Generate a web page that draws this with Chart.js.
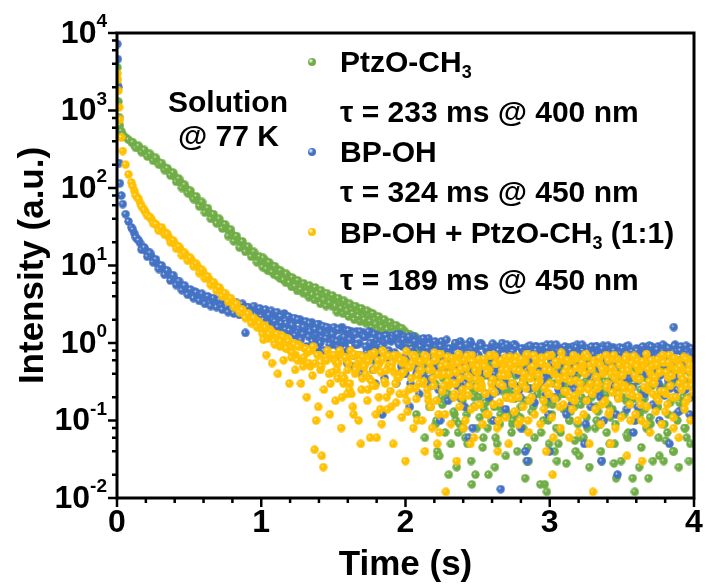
<!DOCTYPE html>
<html>
<head>
<meta charset="utf-8">
<script src="https://cdn.jsdelivr.net/npm/chart.js@4.4.1/dist/chart.umd.min.js"></script>
<style>
  html, body { margin: 0; padding: 0; background: #fff; }
  #wrap { position: relative; width: 706px; height: 586px; }
  .txt {
    position: absolute; white-space: nowrap; color: #000;
    font: bold 30px "Liberation Sans", Arial, sans-serif; line-height: 30px;
  }
  .txt sub { font-size: 0.6em; vertical-align: -0.35em; line-height: 0; }
  .dot { position: absolute; width: 8px; height: 8px; border-radius: 50%; }
</style>
</head>
<body>
<div id="wrap">
  <canvas id="chart" width="706" height="586"></canvas>
  <div class="txt" style="left:168px; top:87px;">Solution</div>
  <div class="txt" style="left:178px; top:121px;">@ 77 K</div>

  <span class="dot" id="dot0" style="left:308px; top:58px;"></span>
  <div class="txt" style="left:340px; top:47px;">PtzO-CH<sub>3</sub></div>
  <div class="txt" style="left:340px; top:97px;">τ = 233 ms @ 400 nm</div>
  <span class="dot" id="dot1" style="left:308px; top:148px;"></span>
  <div class="txt" style="left:340px; top:137px;">BP-OH</div>
  <div class="txt" style="left:340px; top:177px;">τ = 324 ms @ 450 nm</div>
  <span class="dot" id="dot2" style="left:308px; top:228px;"></span>
  <div class="txt" style="left:340px; top:218px;">BP-OH + PtzO-CH<sub>3</sub> (1:1)</div>
  <div class="txt" style="left:340px; top:265px;">τ = 189 ms @ 450 nm</div>
</div>
<script>
// --- sampling times (s) ---
const timeS = [
  0.003, 0.006, 0.01, 0.015, 0.02, 0.03, 0.04, 0.06, 0.08, 0.10,
  0.12, 0.14, 0.16, 0.18, 0.20, 0.22, 0.24, 0.26, 0.28, 0.30,
  0.32, 0.34, 0.36, 0.38, 0.40, 0.42, 0.44, 0.46, 0.48, 0.50,
  0.52, 0.54, 0.56, 0.58, 0.60, 0.62, 0.64, 0.66, 0.68, 0.70,
  0.72, 0.74, 0.76, 0.78, 0.80, 0.82, 0.84, 0.86, 0.88, 0.90,
  0.92, 0.94, 0.96, 0.98, 1.00, 1.02, 1.04, 1.06, 1.08, 1.10,
  1.12, 1.14, 1.16, 1.18, 1.20, 1.22, 1.24, 1.26, 1.28, 1.30,
  1.32, 1.34, 1.36, 1.38, 1.40, 1.42, 1.44, 1.46, 1.48, 1.50,
  1.52, 1.54, 1.56, 1.58, 1.60, 1.62, 1.64, 1.66, 1.68, 1.70,
  1.72, 1.74, 1.76, 1.78, 1.80, 1.82, 1.84, 1.86, 1.88, 1.90,
  1.92, 1.94, 1.96, 1.98, 2.00, 2.02, 2.04, 2.06, 2.08, 2.10,
  2.12, 2.14, 2.16, 2.18, 2.20, 2.22, 2.24, 2.26, 2.28, 2.30,
  2.32, 2.34, 2.36, 2.38, 2.40, 2.42, 2.44, 2.46, 2.48, 2.50,
  2.52, 2.54, 2.56, 2.58, 2.60, 2.62, 2.64, 2.66, 2.68, 2.70,
  2.72, 2.74, 2.76, 2.78, 2.80, 2.82, 2.84, 2.86, 2.88, 2.90,
  2.92, 2.94, 2.96, 2.98, 3.00, 3.02, 3.04, 3.06, 3.08, 3.10,
  3.12, 3.14, 3.16, 3.18, 3.20, 3.22, 3.24, 3.26, 3.28, 3.30,
  3.32, 3.34, 3.36, 3.38, 3.40, 3.42, 3.44, 3.46, 3.48, 3.50,
  3.52, 3.54, 3.56, 3.58, 3.60, 3.62, 3.64, 3.66, 3.68, 3.70,
  3.72, 3.74, 3.76, 3.78, 3.80, 3.82, 3.84, 3.86, 3.88, 3.90,
  3.92, 3.94, 3.96, 3.98, 4.00
];
const timeB = [
  0.11, 0.13, 0.15, 0.17, 0.19, 0.21, 0.23, 0.25, 0.27, 0.29,
  0.31, 0.33, 0.35, 0.37, 0.39, 0.41, 0.43, 0.45, 0.47, 0.49,
  0.51, 0.53, 0.55, 0.57, 0.59, 0.61, 0.63, 0.65, 0.67, 0.69,
  0.71, 0.73, 0.75, 0.77, 0.79, 0.81, 0.83, 0.85, 0.87, 0.89,
  0.91, 0.93, 0.95, 0.97, 0.99, 1.01, 1.03, 1.05, 1.07, 1.09,
  1.11, 1.13, 1.15, 1.17, 1.19, 1.21, 1.23, 1.25, 1.27, 1.29,
  1.31, 1.33, 1.35, 1.37, 1.39, 1.41, 1.43, 1.45, 1.47, 1.49,
  1.51, 1.53, 1.55, 1.57, 1.59, 1.61, 1.63, 1.65, 1.67, 1.69,
  1.71, 1.73, 1.75, 1.77, 1.79, 1.81, 1.83, 1.85, 1.87, 1.89,
  1.91, 1.93, 1.95, 1.97, 1.99, 2.01, 2.03, 2.05, 2.07, 2.09,
  2.11, 2.13, 2.15, 2.17, 2.19, 2.21, 2.23, 2.25, 2.27, 2.29,
  2.31, 2.33, 2.35, 2.37, 2.39, 2.41, 2.43, 2.45, 2.47, 2.49,
  2.51, 2.53, 2.55, 2.57, 2.59, 2.61, 2.63, 2.65, 2.67, 2.69,
  2.71, 2.73, 2.75, 2.77, 2.79, 2.81, 2.83, 2.85, 2.87, 2.89,
  2.91, 2.93, 2.95, 2.97, 2.99, 3.01, 3.03, 3.05, 3.07, 3.09,
  3.11, 3.13, 3.15, 3.17, 3.19, 3.21, 3.23, 3.25, 3.27, 3.29,
  3.31, 3.33, 3.35, 3.37, 3.39, 3.41, 3.43, 3.45, 3.47, 3.49,
  3.51, 3.53, 3.55, 3.57, 3.59, 3.61, 3.63, 3.65, 3.67, 3.69,
  3.71, 3.73, 3.75, 3.77, 3.79, 3.81, 3.83, 3.85, 3.87, 3.89,
  3.91, 3.93, 3.95, 3.97, 3.99
];
const timeC = [
  1.505, 1.525, 1.545, 1.565, 1.585, 1.605, 1.625, 1.645, 1.665, 1.685,
  1.705, 1.725, 1.745, 1.765, 1.785, 1.805, 1.825, 1.845, 1.865, 1.885,
  1.905, 1.925, 1.945, 1.965, 1.985, 2.005, 2.025, 2.045, 2.065, 2.085,
  2.105, 2.125, 2.145, 2.165, 2.185, 2.205, 2.225, 2.245, 2.265, 2.285,
  2.305, 2.325, 2.345, 2.365, 2.385, 2.405, 2.425, 2.445, 2.465, 2.485,
  2.505, 2.525, 2.545, 2.565, 2.585, 2.605, 2.625, 2.645, 2.665, 2.685,
  2.705, 2.725, 2.745, 2.765, 2.785, 2.805, 2.825, 2.845, 2.865, 2.885,
  2.905, 2.925, 2.945, 2.965, 2.985, 3.005, 3.025, 3.045, 3.065, 3.085,
  3.105, 3.125, 3.145, 3.165, 3.185, 3.205, 3.225, 3.245, 3.265, 3.285,
  3.305, 3.325, 3.345, 3.365, 3.385, 3.405, 3.425, 3.445, 3.465, 3.485,
  3.505, 3.525, 3.545, 3.565, 3.585, 3.605, 3.625, 3.645, 3.665, 3.685,
  3.705, 3.725, 3.745, 3.765, 3.785, 3.805, 3.825, 3.845, 3.865, 3.885,
  3.905, 3.925, 3.945, 3.965, 3.985
];
const timeD = [
  1.015, 1.035, 1.055, 1.075, 1.095, 1.115, 1.135, 1.155, 1.175, 1.195,
  1.215, 1.235, 1.255, 1.275, 1.295, 1.315, 1.335, 1.355, 1.375, 1.395,
  1.415, 1.435, 1.455, 1.475, 1.495, 1.515, 1.535, 1.555, 1.575, 1.595,
  1.615, 1.635, 1.655, 1.675, 1.695, 1.715, 1.735, 1.755, 1.775, 1.795,
  1.815, 1.835, 1.855, 1.875, 1.895, 1.915, 1.935, 1.955, 1.975, 1.995,
  2.015, 2.035, 2.055, 2.075, 2.095, 2.115, 2.135, 2.155, 2.175, 2.195,
  2.215, 2.235, 2.255, 2.275, 2.295, 2.315, 2.335, 2.355, 2.375, 2.395,
  2.415, 2.435, 2.455, 2.475, 2.495, 2.515, 2.535, 2.555, 2.575, 2.595,
  2.615, 2.635, 2.655, 2.675, 2.695, 2.715, 2.735, 2.755, 2.775, 2.795,
  2.815, 2.835, 2.855, 2.875, 2.895, 2.915, 2.935, 2.955, 2.975, 2.995,
  3.015, 3.035, 3.055, 3.075, 3.095, 3.115, 3.135, 3.155, 3.175, 3.195,
  3.215, 3.235, 3.255, 3.275, 3.295, 3.315, 3.335, 3.355, 3.375, 3.395,
  3.415, 3.435, 3.455, 3.475, 3.495, 3.515, 3.535, 3.555, 3.575, 3.595,
  3.615, 3.635, 3.655, 3.675, 3.695, 3.715, 3.735, 3.755, 3.775, 3.795,
  3.815, 3.835, 3.855, 3.875, 3.895, 3.915, 3.935, 3.955, 3.975, 3.995
];

// --- PtzO-CH3, tau = 233 ms @ 400 nm ---
const ptzY = [
  3600, 2100, 1300, 820, 640, 540, 490, 450, 420, 390,
  360, 345, 320, 300, 285, 270, 250, 238, 222, 205,
  192, 178, 165, 150, 140, 128, 118, 107, 98, 88,
  80, 74, 68, 63, 57, 53, 48, 44, 41, 38,
  35, 32, 30, 27, 25, 23.5, 21, 19.5, 18, 16.5,
  15.5, 14.5, 13, 12.5, 11.2, 10.8, 10, 9.6, 8.8, 8.5,
  8.0, 7.6, 7.0, 6.8, 6.2, 6.0, 5.6, 5.5, 5.0, 4.8,
  4.7, 4.3, 4.5, 3.9, 4.1, 3.7, 3.5, 3.8, 3.2, 3.4,
  3.1, 3.4, 2.8, 3.0, 2.6, 2.9, 2.4, 2.7, 2.2, 2.5,
  2.3, 2.0, 2.4, 1.8, 2.1, 1.6, 1.9, 1.5, 1.7, 1.35,
  1.5, 1.3, 1.45, 1.2, 1.35, 1.1, 1.25, 1.0, 1.15, 0.95,
  1.05, 0.8, 0.95, 0.6, 0.85, 0.04, 0.7, 0.35, 0.75, 0.02,
  0.5, 0.12, 0.35, 0.7, 0.08, 0.3, 0.45, 0.015, 0.22, 0.55,
  0.3, 0.06, 0.42, 0.18, 0.65, 0.025, 0.35, 0.12, 0.5, 0.2,
  0.4, 0.09, 0.28, 0.55, 0.15, 0.33, 0.03, 0.46, 0.2, 0.6,
  0.25, 0.07, 0.5, 0.012, 0.38, 0.16, 0.45, 0.05, 0.3, 0.22,
  0.55, 0.1, 0.35, 0.04, 0.42, 0.2, 0.6, 0.08, 0.28, 0.48,
  0.15, 0.4, 0.03, 0.32, 0.52, 0.11, 0.36, 0.018, 0.25, 0.45,
  0.3, 0.06, 0.48, 0.19, 0.38, 0.025, 0.55, 0.14, 0.34, 0.09,
  0.42, 0.2, 0.035, 0.5, 0.27, 0.12, 0.6, 0.04, 0.33, 0.17,
  0.45, 0.08, 0.3, 0.55, 0.22
];
const ptzB = [
  390, 330, 350, 290, 310, 255, 275, 225, 245, 200,
  210, 170, 180, 145, 158, 120, 132, 100, 110, 86,
  92, 72, 78, 58, 66, 48, 55, 40, 46, 35,
  40, 30, 34, 24, 29, 20.5, 24, 17, 20.5, 15,
  17.5, 13, 15, 11, 13, 9.5, 11.5, 8.5, 10, 7.6,
  9.0, 6.8, 8.0, 6.0, 7.2, 5.3, 6.5, 4.7, 5.6, 4.4,
  5.3, 3.9, 4.9, 3.6, 4.4, 3.2, 4.2, 3.0, 3.8, 3.0,
  3.7, 2.8, 3.5, 2.5, 3.2, 2.3, 3.0, 2.1, 2.8, 2.0,
  2.6, 1.9, 2.5, 1.7, 2.2, 1.55, 2.0, 1.45, 1.85, 1.3,
  1.7, 1.15, 1.6, 1.05, 1.45, 0.9, 1.3, 0.8, 1.2, 0.7,
  0.9, 0.5, 1.0, 0.3, 0.65, 0.09, 0.55, 0.2, 0.8, 0.45,
  0.35, 0.6, 0.1, 0.45, 0.25, 0.7, 0.05, 0.4, 0.3, 0.6,
  0.2, 0.5, 0.38, 0.08, 0.55, 0.28, 0.45, 0.15, 0.62, 0.32,
  0.5, 0.22, 0.6, 0.12, 0.42, 0.3, 0.018, 0.5, 0.26, 0.4,
  0.35, 0.55, 0.2, 0.45, 0.1, 0.6, 0.3, 0.03, 0.48, 0.25,
  0.4, 0.28, 0.52, 0.15, 0.38, 0.06, 0.45, 0.32, 0.58, 0.2,
  0.3, 0.48, 0.09, 0.42, 0.22, 0.6, 0.35, 0.05, 0.4, 0.27,
  0.45, 0.18, 0.58, 0.3, 0.012, 0.42, 0.25, 0.5, 0.08, 0.36,
  0.28, 0.52, 0.15, 0.4, 0.03, 0.46, 0.33, 0.6, 0.2, 0.38,
  0.5, 0.25, 0.06, 0.42, 0.3
];
const ptzC = [
  3.0, 2.5, 3.3, 2.4, 2.9, 2.2, 2.7, 2.0, 2.5, 1.9,
  2.2, 1.8, 2.3, 1.6, 2.0, 1.5, 1.9, 1.4, 1.75, 1.3,
  1.55, 1.25, 1.4, 1.1, 1.3, 0.95, 1.2, 0.85, 1.1, 0.75,
  0.7, 0.38, 0.6, 0.15, 0.5, 0.3, 0.035, 0.42, 0.25, 0.55,
  0.4, 0.2, 0.5, 0.07, 0.33, 0.58, 0.12, 0.45, 0.26, 0.02,
  0.35, 0.5, 0.14, 0.4, 0.62, 0.22, 0.06, 0.48, 0.3, 0.4,
  0.25, 0.55, 0.1, 0.38, 0.2, 0.5, 0.3, 0.045, 0.44, 0.15,
  0.5, 0.28, 0.4, 0.015, 0.34, 0.18, 0.56, 0.08, 0.42, 0.3,
  0.22, 0.46, 0.13, 0.38, 0.55, 0.035, 0.3, 0.48, 0.18, 0.4,
  0.52, 0.1, 0.36, 0.25, 0.6, 0.16, 0.44, 0.028, 0.32, 0.5,
  0.2, 0.4, 0.07, 0.52, 0.3, 0.45, 0.12, 0.36, 0.58, 0.018,
  0.34, 0.48, 0.15, 0.4, 0.26, 0.055, 0.5, 0.3, 0.44, 0.1,
  0.38, 0.2, 0.5, 0.03, 0.32
];
const ptzD = [
  12.5, 9.0, 11, 8.2, 9.8, 7.2, 8.6, 6.5, 7.8, 6.0,
  7.0, 5.4, 6.4, 4.9, 5.9, 4.5, 5.5, 4.2, 5.2, 3.9,
  4.8, 3.6, 4.4, 3.3, 4.1, 3.0, 3.8, 2.8, 3.5, 2.6,
  3.2, 2.4, 3.0, 2.2, 2.8, 2.0, 2.6, 1.9, 2.4, 1.75,
  2.2, 1.6, 2.0, 1.5, 1.85, 1.35, 1.7, 1.25, 1.55, 1.15,
  1.3, 0.95, 1.2, 0.12, 1.05, 0.7, 0.06, 0.85, 0.15, 0.6,
  0.1, 0.035, 0.16, 0.07, 0.22, 0.05, 0.13, 0.025, 0.09, 0.18,
  0.06, 0.14, 0.03, 0.2, 0.08, 0.11, 0.045, 0.17, 0.02, 0.1,
  0.15, 0.05, 0.09, 0.24, 0.035, 0.12, 0.07, 0.19, 0.04, 0.11,
  0.08, 0.18, 0.03, 0.13, 0.06, 0.22, 0.015, 0.1, 0.16, 0.05,
  0.12, 0.04, 0.2, 0.07, 0.14, 0.028, 0.1, 0.17, 0.055, 0.09,
  0.16, 0.06, 0.11, 0.025, 0.21, 0.08, 0.13, 0.04, 0.18, 0.07,
  0.05, 0.14, 0.09, 0.2, 0.03, 0.12, 0.065, 0.16, 0.018, 0.1,
  0.13, 0.045, 0.19, 0.08, 0.11, 0.03, 0.15, 0.06, 0.22, 0.09,
  0.07, 0.17, 0.04, 0.12, 0.025, 0.14, 0.08, 0.19, 0.05, 0.11
];

// --- BP-OH, tau = 324 ms @ 450 nm ---
const bpY = [
  7200, 4600, 2000, 210, 115, 80, 62, 46, 37, 31,
  26, 22, 19.5, 17, 15.5, 14.5, 13, 11.5, 10.5, 9.5,
  9.0, 8.3, 7.8, 7.0, 6.6, 6.2, 5.6, 5.3, 4.9, 4.6,
  4.4, 4.6, 3.9, 4.2, 3.6, 3.9, 3.3, 3.7, 3.2, 3.4,
  3.1, 3.5, 2.9, 3.3, 2.7, 3.2, 2.6, 3.0, 2.5, 2.9,
  2.4, 2.8, 2.3, 2.7, 2.2, 2.6, 2.1, 2.5, 2.0, 2.4,
  2.2, 1.8, 2.4, 1.7, 2.1, 1.6, 2.0, 1.5, 1.9, 1.45,
  1.8, 1.4, 1.7, 1.3, 1.75, 1.2, 1.6, 1.25, 1.5, 1.1,
  1.45, 1.1, 1.6, 0.95, 1.35, 1.15, 0.7, 1.4, 1.0, 1.3,
  1.2, 0.85, 1.35, 0.6, 1.1, 0.95, 0.12, 1.25, 0.75, 1.05,
  1.15, 0.65, 1.3, 0.9, 0.4, 1.1, 0.8, 1.2, 0.55, 1.0,
  0.95, 0.6, 1.15, 0.35, 0.85, 0.7, 0.1, 1.0, 0.5, 0.8,
  0.65, 0.9, 0.28, 1.05, 0.55, 0.75, 0.06, 0.95, 0.45, 0.7,
  1.0, 0.5, 0.8, 0.2, 0.9, 0.4, 0.65, 0.013, 0.85, 0.55,
  0.75, 0.3, 0.95, 0.6, 0.08, 0.85, 0.45, 0.7, 0.2, 0.9,
  0.5, 0.8, 0.35, 0.95, 0.04, 0.65, 0.75, 0.25, 0.85, 0.55,
  0.7, 0.15, 0.9, 0.45, 0.8, 0.6, 0.05, 0.85, 0.38, 0.72,
  0.9, 0.5, 0.03, 0.78, 0.62, 0.3, 0.88, 0.12, 0.7, 0.55,
  0.8, 0.4, 0.68, 0.07, 0.85, 0.52, 0.75, 0.22, 0.9, 0.6,
  0.45, 0.82, 0.1, 0.7, 0.9, 0.33, 0.62, 1.6, 0.8, 0.5,
  0.75, 0.25, 0.88, 0.55, 0.7
];
const bpB = [
  29, 23, 21, 16, 17, 13, 14.5, 11, 12, 9,
  10, 7.6, 8.6, 6.4, 7.5, 5.6, 6.3, 4.8, 5.5, 4.2,
  4.9, 3.8, 4.5, 3.5, 4.3, 3.2, 4.0, 3.0, 3.8, 2.9,
  3.6, 2.7, 3.6, 2.5, 3.4, 2.4, 3.3, 2.3, 3.2, 1.35,
  2.9, 2.1, 3.0, 2.0, 2.8, 1.9, 2.7, 1.8, 2.6, 1.75,
  2.5, 1.6, 2.3, 1.5, 2.2, 1.4, 2.1, 1.35, 2.0, 1.3,
  1.9, 1.2, 1.85, 1.1, 1.75, 1.0, 1.65, 1.15, 1.55, 0.95,
  1.5, 0.9, 1.55, 1.05, 1.45, 0.8, 1.4, 0.95, 0.5, 1.3,
  1.35, 0.75, 1.3, 0.9, 0.3, 1.25, 0.85, 1.2, 0.65, 1.1,
  1.25, 0.7, 1.0, 0.5, 1.2, 0.85, 0.15, 1.1, 0.6, 0.95,
  1.1, 0.75, 0.45, 1.0, 0.65, 0.9, 0.25, 1.05, 0.7, 0.85,
  0.8, 0.35, 1.0, 0.6, 0.9, 0.15, 0.75, 1.05, 0.5, 0.85,
  0.6, 0.95, 0.4, 0.8, 0.7, 0.1, 0.9, 0.55, 1.0, 0.3,
  0.85, 0.5, 0.95, 0.65, 0.25, 0.8, 0.04, 0.9, 0.6, 0.75,
  0.9, 0.45, 0.7, 0.85, 0.12, 0.95, 0.6, 0.8, 0.35, 0.75,
  0.55, 0.88, 0.3, 0.7, 0.95, 0.5, 0.8, 0.09, 0.65, 0.9,
  0.6, 0.8, 0.2, 0.92, 0.45, 0.7, 0.85, 0.55, 0.02, 0.75,
  0.65, 0.9, 0.35, 0.78, 0.55, 0.15, 0.85, 0.7, 0.4, 0.92,
  0.8, 0.55, 0.9, 0.25, 0.72, 0.85, 0.05, 0.65, 0.95, 0.6,
  0.9, 0.45, 0.8, 0.12, 0.65
];
const bpC = [
  1.6, 1.05, 1.5, 1.2, 0.85, 1.45, 1.1, 1.35, 0.95, 1.4,
  1.25, 0.9, 1.4, 1.0, 1.3, 0.7, 1.2, 0.95, 1.25, 0.8,
  1.15, 0.75, 1.3, 0.95, 1.1, 0.6, 1.2, 0.85, 1.05, 0.45,
  0.9, 1.15, 0.6, 0.95, 0.8, 1.05, 0.5, 0.9, 0.7, 1.1,
  0.85, 0.55, 1.0, 0.7, 0.9, 0.4, 0.95, 0.75, 0.08, 0.88,
  0.7, 0.92, 0.45, 0.85, 0.65, 0.98, 0.3, 0.8, 0.6, 0.9,
  0.95, 0.55, 0.78, 0.9, 0.4, 0.85, 0.7, 0.03, 0.92, 0.62,
  0.8, 0.5, 0.9, 0.68, 0.85, 0.2, 0.75, 0.95, 0.55, 0.82,
  0.9, 0.62, 0.8, 0.35, 0.88, 0.7, 0.95, 0.48, 0.78, 0.15,
  0.72, 0.9, 0.5, 0.84, 0.65, 0.92, 0.28, 0.8, 0.6, 0.88,
  0.85, 0.58, 0.92, 0.7, 0.1, 0.8, 0.66, 0.9, 0.45, 0.76,
  0.9, 0.65, 0.82, 0.38, 0.95, 0.7, 0.86, 0.55, 0.92, 0.25,
  0.8, 0.6, 0.92, 0.7, 0.85
];
const bpD = [
  2.0, 1.5, 2.3, 1.3, 1.9, 1.6, 2.2, 1.2, 1.8, 1.45,
  1.7, 1.25, 2.0, 1.1, 1.6, 0.9, 1.8, 1.05, 1.5, 0.85,
  1.4, 0.8, 1.6, 0.95, 1.3, 0.6, 1.5, 0.75, 1.2, 0.55,
  1.1, 0.5, 1.3, 0.7, 0.4, 1.2, 0.6, 1.0, 0.45, 0.8,
  0.55, 0.9, 0.35, 1.1, 0.5, 0.7, 0.3, 0.95, 0.42, 0.65,
  0.5, 0.3, 0.75, 0.4, 0.22, 0.6, 0.35, 0.85, 0.28, 0.55,
  0.4, 0.62, 0.25, 0.5, 0.18, 0.7, 0.33, 0.45, 0.2, 0.58,
  0.3, 0.52, 0.38, 0.15, 0.6, 0.27, 0.44, 0.22, 0.66, 0.35,
  0.48, 0.24, 0.56, 0.32, 0.14, 0.42, 0.6, 0.28, 0.5, 0.2,
  0.36, 0.58, 0.26, 0.45, 0.17, 0.64, 0.3, 0.5, 0.22, 0.4,
  0.55, 0.2, 0.42, 0.3, 0.62, 0.12, 0.48, 0.35, 0.25, 0.57,
  0.28, 0.46, 0.18, 0.6, 0.34, 0.52, 0.23, 0.4, 0.1, 0.5,
  0.44, 0.3, 0.58, 0.2, 0.48, 0.36, 0.14, 0.55, 0.27, 0.62,
  0.33, 0.5, 0.24, 0.42, 0.6, 0.16, 0.46, 0.3, 0.54, 0.21,
  0.52, 0.26, 0.45, 0.35, 0.13, 0.58, 0.32, 0.48, 0.2, 0.4
];

// --- BP-OH + PtzO-CH3 (1:1), tau = 189 ms @ 450 nm ---
const mixY = [
  3000, 2500, 1800, 1100, 760, 450, 300, 200, 150, 118,
  92, 76, 64, 55, 48, 43, 39, 35, 32, 30,
  28, 25.5, 23, 21, 19, 17.5, 16, 14.5, 13.5, 12.2,
  11.5, 10.2, 9.6, 8.5, 8.0, 7.1, 6.6, 5.9, 5.6, 5.0,
  4.7, 4.3, 4.0, 3.6, 3.4, 3.1, 2.8, 2.7, 2.4, 2.3,
  2.1, 2.0, 1.8, 1.9, 1.5, 1.7, 1.35, 1.5, 1.2, 1.3,
  1.1, 1.25, 0.95, 1.15, 0.8, 1.0, 0.7, 0.95, 0.6, 0.85,
  0.75, 0.5, 0.9, 0.1, 0.7, 0.035, 0.6, 0.8, 0.3, 0.65,
  0.55, 0.75, 0.2, 0.65, 0.45, 0.8, 0.12, 0.5, 0.7, 0.35,
  0.6, 0.25, 0.72, 0.45, 0.06, 0.55, 0.8, 0.3, 0.5, 0.15,
  0.42, 0.65, 0.22, 0.55, 0.03, 0.5, 0.35, 0.7, 0.1, 0.45,
  0.3, 0.6, 0.18, 0.45, 0.75, 0.05, 0.38, 0.55, 0.012, 0.28,
  0.5, 0.22, 0.65, 0.35, 0.08, 0.48, 0.28, 0.7, 0.15, 0.42,
  0.33, 0.58, 0.12, 0.45, 0.25, 0.68, 0.04, 0.38, 0.52, 0.2,
  0.6, 0.3, 0.45, 0.09, 0.55, 0.35, 0.72, 0.18, 0.42, 0.27,
  0.4, 0.65, 0.14, 0.5, 0.3, 0.02, 0.56, 0.36, 0.75, 0.24,
  0.48, 0.2, 0.6, 0.33, 0.07, 0.44, 0.68, 0.26, 0.52, 0.012,
  0.37, 0.58, 0.16, 0.46, 0.3, 0.05, 0.62, 0.4, 0.22, 0.54,
  0.28, 0.5, 0.1, 0.64, 0.35, 0.45, 0.03, 0.57, 0.25, 0.4,
  0.55, 0.2, 0.42, 0.68, 0.13, 0.36, 0.5, 0.08, 0.6, 0.3,
  0.45, 0.17, 0.62, 0.35, 0.5
];
const mixB = [
  105, 80, 72, 58, 52, 44, 42, 35, 34, 28,
  31, 25, 25.5, 20, 21, 16.5, 17.5, 13.5, 14.5, 11.5,
  12.5, 9.8, 10.5, 8.0, 8.8, 6.8, 7.2, 5.6, 6.1, 4.7,
  5.2, 4.0, 4.4, 3.4, 3.8, 2.9, 3.2, 2.5, 2.7, 2.1,
  2.4, 1.8, 2.1, 1.6, 1.8, 1.3, 1.6, 1.15, 1.4, 1.05,
  1.3, 0.9, 1.2, 0.85, 1.05, 0.65, 0.95, 0.6, 0.9, 0.5,
  0.85, 0.55, 0.8, 0.042, 0.7, 0.45, 0.025, 0.65, 0.4, 0.7,
  0.6, 0.35, 0.72, 0.3, 0.62, 0.25, 0.68, 0.4, 0.55, 0.05,
  0.5, 0.65, 0.35, 0.7, 0.28, 0.6, 0.42, 0.75, 0.2, 0.52,
  0.55, 0.3, 0.68, 0.4, 0.6, 0.18, 0.48, 0.7, 0.26, 0.58,
  0.45, 0.7, 0.25, 0.55, 0.35, 0.62, 0.12, 0.5, 0.4, 0.66,
  0.3, 0.55, 0.42, 0.72, 0.2, 0.6, 0.38, 0.05, 0.52, 0.34,
  0.62, 0.28, 0.5, 0.4, 0.7, 0.16, 0.55, 0.3, 0.45, 0.65,
  0.38, 0.52, 0.2, 0.66, 0.44, 0.3, 0.58, 0.1, 0.48, 0.7,
  0.55, 0.32, 0.62, 0.45, 0.22, 0.7, 0.4, 0.52, 0.15, 0.6,
  0.35, 0.58, 0.42, 0.18, 0.64, 0.3, 0.5, 0.72, 0.25, 0.46,
  0.6, 0.26, 0.52, 0.4, 0.7, 0.12, 0.48, 0.35, 0.62, 0.3,
  0.44, 0.68, 0.22, 0.55, 0.38, 0.6, 0.16, 0.5, 0.72, 0.32,
  0.5, 0.36, 0.62, 0.24, 0.56, 0.42, 0.7, 0.2, 0.46, 0.58,
  0.38, 0.66, 0.28, 0.52, 0.42
];
const mixC = [
  0.7, 0.45, 0.8, 0.38, 0.65, 0.55, 0.22, 0.72, 0.48, 0.6,
  0.66, 0.4, 0.58, 0.32, 0.75, 0.5, 0.14, 0.62, 0.44, 0.68,
  0.48, 0.7, 0.36, 0.6, 0.42, 0.78, 0.25, 0.55, 0.65, 0.38,
  0.58, 0.32, 0.66, 0.45, 0.08, 0.6, 0.4, 0.72, 0.28, 0.52,
  0.4, 0.64, 0.3, 0.55, 0.46, 0.22, 0.68, 0.36, 0.58, 0.44,
  0.5, 0.26, 0.62, 0.42, 0.7, 0.34, 0.54, 0.1, 0.6, 0.38,
  0.45, 0.66, 0.3, 0.56, 0.2, 0.62, 0.4, 0.7, 0.35, 0.5,
  0.62, 0.38, 0.54, 0.26, 0.68, 0.44, 0.06, 0.58, 0.34, 0.64,
  0.42, 0.6, 0.32, 0.7, 0.48, 0.24, 0.56, 0.4, 0.66, 0.3,
  0.55, 0.36, 0.64, 0.46, 0.18, 0.6, 0.4, 0.7, 0.28, 0.52,
  0.38, 0.62, 0.44, 0.26, 0.68, 0.5, 0.34, 0.58, 0.09, 0.46,
  0.6, 0.3, 0.52, 0.42, 0.7, 0.22, 0.56, 0.38, 0.64, 0.46,
  0.5, 0.34, 0.62, 0.44, 0.28
];
const mixD = [
  1.1, 0.7, 1.3, 0.55, 0.95, 0.4, 1.05, 0.6, 0.85, 0.3,
  0.75, 0.45, 0.9, 0.3, 0.65, 0.2, 0.8, 0.38, 0.55, 0.15,
  0.5, 0.25, 0.6, 0.12, 0.42, 0.18, 0.55, 0.08, 0.35, 0.22,
  0.3, 0.15, 0.45, 0.1, 0.25, 0.5, 0.18, 0.06, 0.28, 0.12,
  0.2, 0.09, 0.32, 0.14, 0.24, 0.05, 0.17, 0.36, 0.11, 0.22,
  0.13, 0.26, 0.08, 0.19, 0.3, 0.1, 0.04, 0.21, 0.15, 0.28,
  0.18, 0.07, 0.24, 0.12, 0.32, 0.09, 0.2, 0.03, 0.15, 0.25,
  0.1, 0.21, 0.14, 0.06, 0.27, 0.16, 0.09, 0.22, 0.12, 0.3,
  0.23, 0.08, 0.17, 0.28, 0.11, 0.05, 0.19, 0.13, 0.25, 0.1,
  0.15, 0.26, 0.07, 0.2, 0.12, 0.3, 0.09, 0.18, 0.04, 0.22,
  0.11, 0.19, 0.28, 0.08, 0.16, 0.24, 0.06, 0.14, 0.21, 0.1,
  0.25, 0.12, 0.18, 0.05, 0.22, 0.14, 0.3, 0.09, 0.17, 0.27,
  0.13, 0.23, 0.08, 0.19, 0.11, 0.26, 0.035, 0.16, 0.21, 0.12,
  0.2, 0.1, 0.27, 0.15, 0.07, 0.22, 0.13, 0.18, 0.09, 0.24,
  0.16, 0.28, 0.11, 0.2, 0.06, 0.25, 0.14, 0.19, 0.1, 0.23
];

const seriesNames = ['PtzO-CH3', 'BP-OH', 'BP-OH + PtzO-CH3 (1:1)'];
const seriesColors = ['#70AD47', '#4472C4', '#FFC000'];
const xTickValues = [0, 1, 2, 3, 4];
const yTickExps = [-2, -1, 0, 1, 2, 3, 4];

const FONT = '"Liberation Sans", Arial, sans-serif';

// small shaded ball used as the point marker
function ball(color, size) {
  const c = document.createElement('canvas');
  c.width = size; c.height = size;
  const g = c.getContext('2d');
  const r = size / 2;
  const grad = g.createRadialGradient(r * 0.7, r * 0.7, 0, r, r, r);
  grad.addColorStop(0, '#ffffff');
  grad.addColorStop(0.3, color);
  grad.addColorStop(1, color);
  g.fillStyle = grad;
  g.beginPath();
  g.arc(r, r, r - 0.3, 0, Math.PI * 2);
  g.fill();
  return c;
}

seriesColors.forEach((col, i) => {
  const d = document.getElementById('dot' + i);
  d.style.background = `radial-gradient(circle at 35% 35%, #fff 0%, ${col} 35%, ${col} 100%)`;
});

function pts(ts, ys) {
  return ts.map((t, i) => ({ x: t, y: ys[i] }));
}

const seriesData = [
  [...pts(timeS, ptzY), ...pts(timeB, ptzB), ...pts(timeC, ptzC), ...pts(timeD, ptzD)],
  [...pts(timeS, bpY), ...pts(timeB, bpB), ...pts(timeC, bpC), ...pts(timeD, bpD)],
  [...pts(timeS, mixY), ...pts(timeB, mixB), ...pts(timeC, mixC), ...pts(timeD, mixD)]
];

// axis frame, ticks and tick labels
const axisDeco = {
  id: 'axisDeco',
  afterDatasetsDraw(chart) {
    const { ctx, chartArea: a, scales: { x, y } } = chart;
    ctx.save();
    ctx.strokeStyle = '#000';
    ctx.lineWidth = 3;
    ctx.strokeRect(a.left, a.top, a.right - a.left, a.bottom - a.top);

    ctx.lineWidth = 2.5;
    ctx.beginPath();
    xTickValues.forEach((v, i) => {
      const px = x.getPixelForValue(v);
      ctx.moveTo(px, a.bottom); ctx.lineTo(px, a.bottom + 9);
      if (i < xTickValues.length - 1) {
        const step = (xTickValues[i + 1] - v) / 5;
        for (let k = 1; k < 5; k++) {
          const mx = x.getPixelForValue(v + k * step);
          ctx.moveTo(mx, a.bottom); ctx.lineTo(mx, a.bottom + 5);
        }
      }
    });
    yTickExps.forEach((e, i) => {
      const py = y.getPixelForValue(Math.pow(10, e));
      ctx.moveTo(a.left, py); ctx.lineTo(a.left - 9, py);
      if (i < yTickExps.length - 1) {
        [2, 4, 6, 8].forEach(m => {
          const my = y.getPixelForValue(m * Math.pow(10, e));
          ctx.moveTo(a.left, my); ctx.lineTo(a.left - 5, my);
        });
      }
    });
    ctx.stroke();

    ctx.fillStyle = '#000';
    ctx.font = 'bold 32px ' + FONT;
    ctx.textAlign = 'center';
    ctx.textBaseline = 'middle';
    xTickValues.forEach(v => {
      ctx.fillText(String(v), x.getPixelForValue(v), a.bottom + 25);
    });

    yTickExps.forEach(e => {
      const py = y.getPixelForValue(Math.pow(10, e));
      const right = a.left - 10;
      ctx.font = 'bold 19px ' + FONT;
      ctx.textAlign = 'right';
      ctx.textBaseline = 'middle';
      const ex = String(e);
      const ew = ctx.measureText(ex).width;
      ctx.fillText(ex, right, py - 11);
      ctx.font = 'bold 32px ' + FONT;
      ctx.fillText('10', right - ew, py + 1);
    });
    ctx.restore();
  }
};

new Chart(document.getElementById('chart'), {
  type: 'scatter',
  data: {
    datasets: seriesData.map((data, i) => ({
      label: seriesNames[i],
      data: data,
      pointStyle: ball(seriesColors[i], 9),
      pointRadius: 4.5,
      pointHoverRadius: 4.5,
      backgroundColor: seriesColors[i],
      borderColor: seriesColors[i],
      order: 3 - i,
      clip: 0
    }))
  },
  options: {
    responsive: false,
    animation: false,
    devicePixelRatio: 1,
    layout: { padding: { top: 33, right: 12, left: 0, bottom: 0 } },
    plugins: { legend: { display: false }, tooltip: { enabled: false } },
    scales: {
      x: {
        type: 'linear', min: 0, max: 4,
        grid: { display: false }, border: { display: false },
        ticks: { display: false, stepSize: 1 },
        title: {
          display: true, text: 'Time (s)', color: '#000',
          font: { family: FONT, size: 35, weight: 'bold' },
          padding: { top: 0, bottom: 0 }
        },
        afterFit: s => { s.height = 88; }
      },
      y: {
        type: 'logarithmic', min: 0.01, max: 10000,
        grid: { display: false }, border: { display: false },
        ticks: { display: false },
        title: {
          display: true, text: 'Intensity (a.u.)', color: '#000',
          font: { family: FONT, size: 35, weight: 'bold' },
          padding: { top: 12, bottom: 0 }
        },
        afterFit: s => { s.width = 117; }
      }
    }
  },
  plugins: [axisDeco]
});
</script>
</body>
</html>
